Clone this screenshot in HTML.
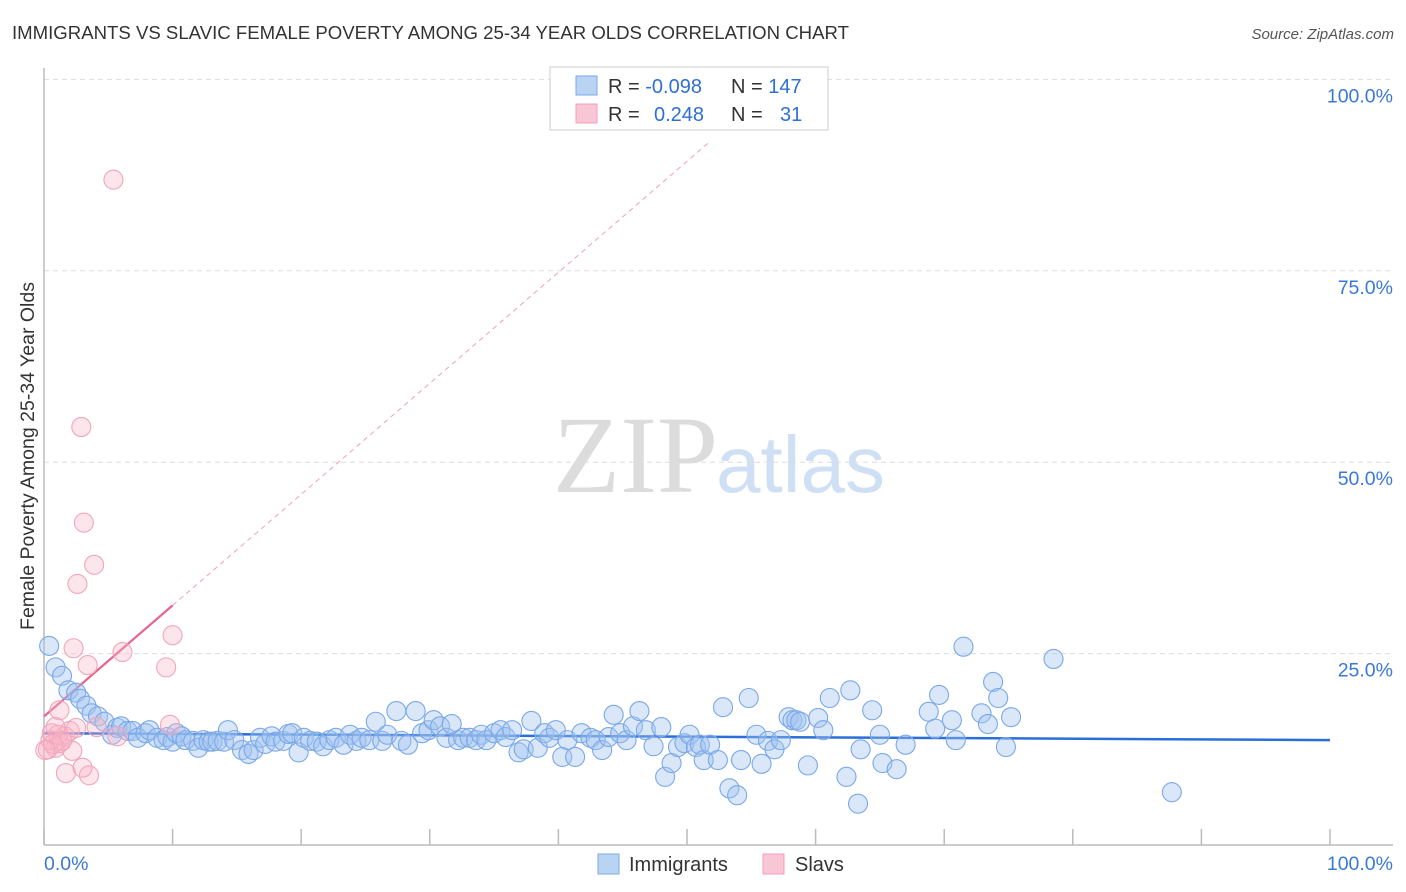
<!DOCTYPE html>
<html><head><meta charset="utf-8"><style>
body{margin:0;background:#fff;font-family:"Liberation Sans",sans-serif;}
svg{display:block}
</style></head><body>
<svg id="chart" width="1406" height="892">
<text x="12" y="39" font-size="18.6" fill="#333">IMMIGRANTS VS SLAVIC FEMALE POVERTY AMONG 25-34 YEAR OLDS CORRELATION CHART</text>
<text x="1394" y="39" font-size="15" fill="#555" font-style="italic" text-anchor="end">Source: ZipAtlas.com</text>
<text transform="translate(34,456) rotate(-90)" font-size="19.5" fill="#333" text-anchor="middle">Female Poverty Among 25-34 Year Olds</text>
<g>
<text x="553" y="492" font-size="110" fill="#dcdcdc" font-family="Liberation Serif,serif">ZIP</text>
<text x="716" y="492" font-size="80" fill="#cfe0f5">atlas</text>
</g>
<g id="grid"></g><g id="axes"></g><g id="lines"></g><g id="pts"></g>
<g>
<rect x="550" y="67" width="278" height="63" fill="#fff" stroke="#ccc"/>
<rect x="576" y="76" width="21" height="19" fill="#b9d3f3" stroke="#7aa8e8"/>
<rect x="576" y="104" width="21" height="19" fill="#f9c6d5" stroke="#f0a0b8"/>
<text x="608" y="93" font-size="20" fill="#333">R = <tspan fill="#2f6fd6">-0.098</tspan><tspan x="731">N = </tspan><tspan fill="#2f6fd6">147</tspan></text>
<text x="608" y="121" font-size="20" fill="#333">R = <tspan x="654" fill="#2f6fd6">0.248</tspan><tspan x="731">N = </tspan><tspan x="780" fill="#2f6fd6">31</tspan></text>
</g>
<g>
<rect x="598" y="854" width="21" height="20" fill="#b9d3f3" stroke="#7aa8e8"/>
<text x="629" y="871" font-size="20" fill="#333">Immigrants</text>
<rect x="763" y="854" width="21" height="20" fill="#f9c6d5" stroke="#f0a0b8"/>
<text x="795" y="871" font-size="20" fill="#333">Slavs</text>
</g>
</svg>
<script>
const yTicks=[25,50,75,100];
const yTickLabels=["25.0%","50.0%","75.0%","100.0%"];
const xTickCount=10;
const blueX=[0.4,0.9,1.4,1.9,2.5,2.8,3.3,3.7,4.2,4.7,5.3,5.7,6.0,6.5,6.9,7.3,7.9,8.2,8.8,9.3,9.6,10.0,10.3,10.7,11.0,11.6,12.0,12.4,12.8,13.1,13.5,14.0,14.3,14.8,15.4,15.9,16.3,16.8,17.2,17.7,18.0,18.6,19.0,19.3,19.8,20.2,20.7,21.2,21.7,22.2,22.7,23.3,23.8,24.3,24.7,25.3,25.8,26.3,26.7,27.4,27.8,28.3,28.9,29.4,29.9,30.3,30.8,31.3,31.7,32.2,32.6,33.1,33.6,34.0,34.4,35.0,35.5,35.9,36.4,36.9,37.3,37.9,38.4,38.9,39.3,39.8,40.3,40.7,41.3,41.8,42.5,42.9,43.4,43.9,44.3,44.8,45.3,45.8,46.3,46.8,47.4,48.0,48.3,48.8,49.3,49.8,50.2,50.7,51.0,51.3,51.8,52.4,52.8,53.3,53.9,54.2,54.8,55.4,55.8,56.3,56.8,57.3,57.9,58.2,58.5,58.8,59.4,60.2,60.6,61.1,62.4,62.7,63.3,63.5,64.4,65.0,65.2,66.3,67.0,68.8,69.3,69.6,70.6,70.9,71.5,72.9,73.4,73.8,74.2,74.8,75.2,78.5,87.7];
const blueY=[26.0,23.2,22.1,20.2,19.9,19.1,18.2,17.2,16.8,16.1,14.4,15.3,15.5,14.9,14.9,14.0,14.6,15.0,14.0,13.7,14.1,13.5,14.6,14.2,13.7,13.6,12.7,13.7,13.5,13.5,13.6,13.5,15.0,13.7,12.4,11.9,12.4,14.0,13.2,14.2,13.5,13.6,14.5,14.6,12.1,14.0,13.6,13.5,12.9,13.7,14.0,13.1,14.4,13.6,14.0,13.7,16.1,13.6,14.4,17.5,13.6,13.1,17.5,14.6,15.0,16.3,15.5,14.0,15.8,13.7,14.0,14.0,13.7,14.4,13.7,14.6,15.0,14.1,15.0,12.1,12.5,16.2,12.7,14.6,14.0,15.0,11.5,13.7,11.5,14.6,14.0,13.7,12.4,14.1,17.0,14.6,13.7,15.5,17.5,15.0,12.9,15.4,8.9,10.7,12.8,13.3,14.4,12.8,13.1,11.1,13.1,11.1,18.0,7.4,6.5,11.1,19.2,14.4,10.6,13.6,12.5,13.7,16.7,16.3,16.3,16.1,10.4,16.6,15.0,19.2,8.9,20.2,5.4,12.5,17.6,14.4,10.7,9.9,13.1,17.4,15.2,19.6,16.3,13.7,25.9,17.2,15.8,21.3,19.2,12.8,16.7,24.3,6.9];
const pinkX=[5.4,2.9,3.1,3.9,2.6,2.3,6.1,10.0,9.5,3.4,1.2,0.6,0.9,1.2,1.6,2.0,0.3,0.5,1.1,1.7,3.5,3.0,2.2,4.1,5.7,9.8,2.5,0.9,1.4,0.7,0.1];
const pinkY=[86.9,54.6,42.1,36.6,34.1,25.7,25.2,27.4,23.2,23.5,17.6,14.6,12.7,13.3,14.2,14.9,12.5,13.7,14.4,9.4,9.1,10.1,12.3,15.4,14.2,15.7,15.3,15.4,13.6,13.2,12.4];
const blueTrend=[14.6,13.7];
const pinkTrend=[16.8,1.45];
const NS="http://www.w3.org/2000/svg";
const X=v=>44+v*12.86, Y=v=>845-v*7.656;
function mk(p,t,a){const e=document.createElementNS(NS,t);for(const k in a)e.setAttribute(k,a[k]);p.appendChild(e);return e;}
const grid=document.getElementById('grid'),axes=document.getElementById('axes'),lines=document.getElementById('lines'),pts=document.getElementById('pts');
yTicks.forEach((t,i)=>{
 const l=mk(grid,'line',{x1:44,x2:1393,y1:Y(t),y2:Y(t),stroke:'#ddd','stroke-dasharray':'5,4'});
 
 
 const tx=mk(grid,'text',{x:1393,y:Y(t)+23,'font-size':19.5,fill:'#3a78d8','text-anchor':'end'});
 tx.textContent=yTickLabels[i];
 
 
});
mk(axes,'line',{x1:44,x2:44,y1:68,y2:845,stroke:'#bbb','stroke-width':1.5});
mk(axes,'line',{x1:44,x2:1393,y1:845,y2:845,stroke:'#bbb','stroke-width':1.5});
for(let i=0;i<=xTickCount;i++){const tk=mk(axes,'line',{x1:X(i*10),x2:X(i*10),y1:829,y2:845,stroke:'#bbb','stroke-width':1.5});
 
 }
const x0=mk(axes,'text',{x:44,y:870,'font-size':19.5,fill:'#3a78d8'});x0.textContent='0.0%';


const x1=mk(axes,'text',{x:1393,y:870,'font-size':19.5,fill:'#3a78d8','text-anchor':'end'});x1.textContent='100.0%';


blueX.forEach((v,i)=>{const c=mk(pts,'circle',{cx:X(v),cy:Y(blueY[i]),r:9.5,fill:'rgba(160,196,240,0.4)',stroke:'#7aa8e8','stroke-width':1.1});
 
 });
pinkX.forEach((v,i)=>{const c=mk(pts,'circle',{cx:X(v),cy:Y(pinkY[i]),r:9.5,fill:'rgba(248,180,200,0.35)',stroke:'#f2a5bb','stroke-width':1.1});
 
 });
const bl=mk(lines,'line',{x1:X(0),y1:Y(blueTrend[0]),x2:X(100),y2:Y(blueTrend[1]),stroke:'#2a6fd9','stroke-width':2.5});


const pxMax=Math.max(...pinkX);
const pd=mk(lines,'line',{x1:X(pxMax),y1:Y(pinkTrend[0]+pinkTrend[1]*pxMax),x2:X(51.8),y2:Y(pinkTrend[0]+pinkTrend[1]*51.8),stroke:'#f0a0b8','stroke-width':1,'stroke-dasharray':'5,4'});


const pl=mk(lines,'line',{x1:X(0),y1:Y(pinkTrend[0]),x2:X(pxMax),y2:Y(pinkTrend[0]+pinkTrend[1]*pxMax),stroke:'#e8668e','stroke-width':2.2});


</script>
</body></html>
